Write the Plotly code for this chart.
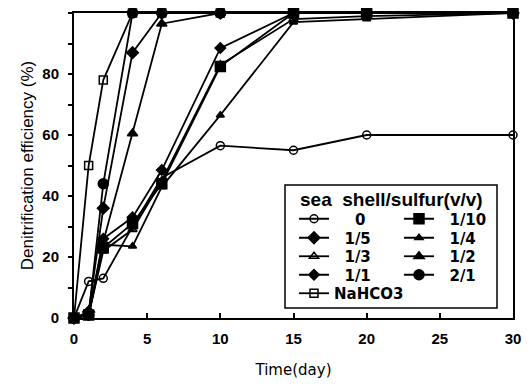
import plotly.graph_objects as go

days = [0, 1, 2, 4, 6, 10, 15, 20, 30]
s_0 = [0, 12, 13, 30, 46, 56.5, 55, 60, 60]
s_1_10 = [0, 1, 23, 31, 44, 82.5, 100, 100, 100]
s_1_5 = [0, 2, 36, 87, 100, 100, 100, 100, 100]
s_1_4 = [0, 1, 24, 23.5, 43, 66.5, 97, 98, 100]
s_1_3 = [0, 1, 22, 29, 45, 83, 98, 99, 100]
s_1_2 = [0, 1, 25, 60.5, 96.5, 100, 100, 100, 100]
s_1_1 = [0, 1, 26, 33, 48.5, 88.5, 100, 100, 100]
s_2_1 = [0, 1, 44, 100, 100, 100, 100, 100, 100]
s_nahco3 = [0, 50, 78, 100, 100, 100, 100, 100, 100]

NB = "\u00a0"
# (label, values, symbol, size, legend row)
series = [
    (NB * 4 + "0", s_0, "circle-open", 8, "legend"),
    (NB * 2 + "1/10", s_1_10, "square", 10, "legend"),
    (NB * 2 + "1/5", s_1_5, "diamond", 9, "legend2"),
    (NB * 2 + "1/4", s_1_4, "triangle-up", 7, "legend2"),
    (NB * 2 + "1/3", s_1_3, "triangle-up-open", 8, "legend3"),
    (NB * 2 + "1/2", s_1_2, "triangle-up", 9, "legend3"),
    (NB * 2 + "1/1", s_1_1, "diamond", 8, "legend4"),
    (NB * 2 + "2/1", s_2_1, "circle", 10, "legend4"),
    ("NaHCO3", s_nahco3, "square-open", 8, "legend5"),
]

fig = go.Figure()
for name, vals, sym, size, lg in series:
    fig.add_trace(go.Scatter(
        x=days, y=vals, name=name, mode="lines+markers",
        line=dict(color="black", width=1.8),
        marker=dict(symbol=sym, size=size, color="black",
                    line=dict(color="black", width=1.5)),
        legend=lg, cliponaxis=False,
    ))

lib = "Liberation Sans, Arial, sans-serif"
dv = "DejaVu Sans, sans-serif"

# page body has an 8px margin: shift the figure accordingly
X0, Y0 = 8, 8
W, H = 530 - X0, 384 - Y0
PL, PR, PT, PB = 74, 513, 13, 318  # plot area in window pixels


def px(x):
    return (x - PL) / (PR - PL)


def py(y):
    return (PB - y) / (PB - PT)


leg_common = dict(orientation="h", xanchor="left", yanchor="middle",
                  bgcolor="rgba(0,0,0,0)", itemwidth=30, entrywidth=60,
                  font=dict(family=dv, size=15, color="black", weight="bold"),
                  tracegroupgap=0)
rows = [219, 238, 256.5, 275, 293.5]
legends = {}
for i, yy in enumerate(rows):
    key = "legend" if i == 0 else "legend%d" % (i + 1)
    legends[key] = dict(leg_common, x=px(294), y=py(yy))
legends["legend5"]["entrywidth"] = 110

fig.update_layout(
    width=W, height=H,
    margin=dict(l=PL - X0, r=530 - PR, t=PT - Y0, b=384 - PB),
    paper_bgcolor="white", plot_bgcolor="white",
    font=dict(family=lib, size=13, color="black"),
    showlegend=True,
    xaxis=dict(range=[0, 30], dtick=5, ticks="inside", ticklen=5, tickwidth=1.5,
               tickcolor="black", showline=True, linecolor="black", linewidth=2,
               mirror=True, showgrid=False, zeroline=False, automargin=False,
               ticklabelstandoff=6,
               tickfont=dict(family=lib, size=15, color="black", weight="bold"),
               title=dict(text="Time(day)", font=dict(family=dv, size=15, color="black"),
                          standoff=18)),
    yaxis=dict(range=[0, 100], dtick=20, ticks="outside", ticklen=4, tickwidth=1.5,
               tickcolor="black", showline=True, linecolor="black", linewidth=2,
               mirror=True, showgrid=False, zeroline=False, automargin=False,
               ticklabelstandoff=6,
               minor=dict(dtick=10, ticks="outside", ticklen=4, tickwidth=1.5, tickcolor="black"),
               tickfont=dict(family=lib, size=15, color="black", weight="bold"),
               title=dict(text="Denitrification efficiency (%)",
                          font=dict(family=lib, size=17, color="black"), standoff=4)),
    shapes=[dict(type="rect", xref="paper", yref="paper",
                 x0=px(285), x1=px(497), y0=py(308), y1=py(185),
                 line=dict(color="black", width=1.5), fillcolor="rgba(0,0,0,0)")],
    annotations=[dict(text="sea  shell/sulfur(v/v)", xref="paper", yref="paper",
                      x=px(391.5), y=py(200), xanchor="center", yanchor="middle",
                      showarrow=False,
                      font=dict(family=lib, size=19, color="black", weight="bold"))],
    **legends,
)

fig.write_html("out.html")
